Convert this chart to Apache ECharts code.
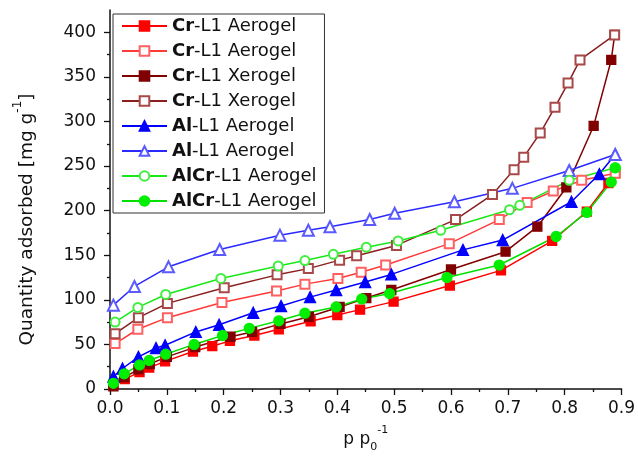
<!DOCTYPE html>
<html><head><meta charset="utf-8">
<script src="https://cdn.jsdelivr.net/npm/echarts@6/dist/echarts.min.js"></script>
<style>html,body{margin:0;padding:0;background:#fff}#c{width:638px;height:466px}</style>
</head><body><div id="c"></div>
<script>
// Legend labels: [bold prefix, rest]
const legendLabels = [
  ['Cr', '-L1 Aerogel'], ['Cr', '-L1 Aerogel'],
  ['Cr', '-L1 Xerogel'], ['Cr', '-L1 Xerogel'],
  ['Al', '-L1 Aerogel'], ['Al', '-L1 Aerogel'],
  ['AlCr', '-L1 Aerogel'], ['AlCr', '-L1 Aerogel']
];
const xTicks = [0, 0.1, 0.2, 0.3, 0.4, 0.5, 0.6, 0.7, 0.8, 0.9];
const yTicks = [0, 50, 100, 150, 200, 250, 300, 350, 400];
const yMinorTicks = [25, 75, 125, 175, 225, 275, 325, 375];

// Cr-L1 Aerogel (adsorption, filled squares)
const crAeroAdsX = [0.006, 0.026, 0.052, 0.069, 0.097, 0.146, 0.18, 0.211, 0.254, 0.297, 0.353, 0.40, 0.44, 0.499, 0.598, 0.688, 0.778, 0.839, 0.877, 0.889];
const crAeroAdsY = [4.5, 11, 19, 24, 31, 42, 48, 54, 60, 67, 76, 83, 89, 98, 116, 133, 166, 199, 231, 242];
// Cr-L1 Aerogel (desorption, open squares)
const crAeroDesX = [0.009, 0.049, 0.101, 0.197, 0.293, 0.343, 0.401, 0.442, 0.485, 0.597, 0.685, 0.734, 0.78, 0.83, 0.889];
const crAeroDesY = [51, 67, 80, 97, 110, 117.6, 124, 131, 139, 163, 190, 209, 222, 234, 242];
// Cr-L1 Xerogel (adsorption, filled squares)
const crXeroAdsX = [0.006, 0.025, 0.05, 0.07, 0.1, 0.15, 0.212, 0.25, 0.3, 0.35, 0.404, 0.451, 0.495, 0.6, 0.696, 0.752, 0.803, 0.851, 0.882, 0.888];
const crXeroAdsY = [3, 13, 22, 28, 36, 47, 58.6, 64, 73, 81, 92, 102, 111, 134, 154, 182, 226, 295, 369, 397];
// Cr-L1 Xerogel (desorption, open squares)
const crXeroDesX = [0.009, 0.05, 0.101, 0.201, 0.294, 0.349, 0.404, 0.434, 0.504, 0.608, 0.673, 0.711, 0.728, 0.757, 0.783, 0.806, 0.827, 0.888];
const crXeroDesY = [62, 80, 96, 113.5, 128, 135, 144.5, 149.4, 161, 190, 218, 246, 260, 287, 316, 343, 369, 397];
// Al-L1 Aerogel (adsorption, filled triangles)
const alAdsX = [0.006, 0.022, 0.05, 0.081, 0.097, 0.151, 0.192, 0.252, 0.301, 0.352, 0.398, 0.449, 0.495, 0.621, 0.691, 0.812, 0.861, 0.889];
const alAdsY = [14, 23, 36, 46, 49, 64, 72, 85.5, 93, 103, 111, 120, 128.5, 156, 167, 210, 241, 263];
// Al-L1 Aerogel (desorption, open triangles)
const alDesX = [0.006, 0.043, 0.103, 0.193, 0.299, 0.349, 0.387, 0.457, 0.501, 0.606, 0.708, 0.808, 0.889];
const alDesY = [94, 115, 137, 156.5, 172.5, 178, 182, 190, 197, 210, 225, 245, 263];
// AlCr-L1 Aerogel (desorption, open circles)
const alcrDesX = [0.009, 0.049, 0.098, 0.195, 0.296, 0.343, 0.393, 0.451, 0.507, 0.582, 0.703, 0.721, 0.808, 0.889];
const alcrDesY = [75, 91.5, 106, 124, 138, 144, 151, 159, 166, 178, 201, 206, 234, 248];
// AlCr-L1 Aerogel (adsorption, filled circles)
const alcrAdsX = [0.006, 0.025, 0.052, 0.069, 0.098, 0.148, 0.198, 0.245, 0.297, 0.343, 0.398, 0.443, 0.492, 0.593, 0.685, 0.785, 0.839, 0.882, 0.889];
const alcrAdsY = [6.4, 17, 27, 32, 39, 50, 60, 68, 76.5, 85, 92, 101, 107, 125, 139, 171, 198, 232, 248];

const FONT = 'DejaVu Sans';
const pair = (xs, ys) => xs.map((x, i) => [x, ys[i]]);

const seriesDefs = [
  {x: crAeroAdsX, y: crAeroAdsY, sym: 'rect', size: 9, color: '#ff0000', line: '#ff0000'},
  {x: crAeroDesX, y: crAeroDesY, sym: 'emptyRect', size: 9, color: '#ff6060', line: '#ff3a3a'},
  {x: crXeroAdsX, y: crXeroAdsY, sym: 'rect', size: 9, color: '#800000', line: '#800000'},
  {x: crXeroDesX, y: crXeroDesY, sym: 'emptyRect', size: 9, color: '#a84848', line: '#8a1f1f'},
  {x: alAdsX, y: alAdsY, sym: 'triangle', size: 11, color: '#0000ff', line: '#0000ff'},
  {x: alDesX, y: alDesY, sym: 'emptyTriangle', size: 11, color: '#5a5aff', line: '#2a2aff'},
  {x: alcrDesX, y: alcrDesY, sym: 'emptyCircle', size: 9, color: '#40ee40', line: '#18e818'},
  {x: alcrAdsX, y: alcrAdsY, sym: 'circle', size: 10, color: '#00ee00', line: '#00e000'}
];

const series = seriesDefs.map((d, i) => ({
  name: 's' + i,
  type: 'line',
  data: pair(d.x, d.y),
  symbol: d.sym,
  symbolSize: d.size,
  showAllSymbol: true,
  itemStyle: {color: d.color, borderColor: d.color, borderWidth: 1.3},
  lineStyle: {color: d.line, width: 1.5},
  emphasis: {disabled: true},
  animation: false
}));

const tickStyle = {color: '#111', width: 1.3};

const chart = echarts.init(document.getElementById('c'));
chart.setOption({
  backgroundColor: '#fff',
  animation: false,
  grid: {left: 110, right: 16, top: 10, bottom: 77, containLabel: false},
  legend: {
    orient: 'vertical', left: 113, top: 14,
    padding: [3, 8, 3, 8], itemGap: 7, itemWidth: 45, itemHeight: 12,
    borderColor: '#333', borderWidth: 1, backgroundColor: '#fff',
    data: series.map(s => s.name),
    formatter: n => { const l = legendLabels[+n.slice(1)]; return '{b|' + l[0] + '}{n|' + l[1] + '}'; },
    textStyle: {
      color: '#111',
      rich: {
        b: {fontFamily: FONT, fontWeight: 'bold', fontSize: 18, lineHeight: 18, color: '#111'},
        n: {fontFamily: FONT, fontSize: 18, lineHeight: 18, color: '#111'}
      }
    }
  },
  xAxis: {
    type: 'value', min: 0, max: 0.9, interval: 0.1,
    name: '{n|p p}{sub|0}{sup|-1}', nameLocation: 'middle', nameGap: 40,
    nameTextStyle: {rich: {
      n: {fontFamily: FONT, fontSize: 17, lineHeight: 22, color: '#111', verticalAlign: 'middle'},
      sub: {fontFamily: FONT, fontSize: 11, lineHeight: 11, color: '#111', verticalAlign: 'bottom', padding: [0, 0, -2, 0]},
      sup: {fontFamily: FONT, fontSize: 11, lineHeight: 11, color: '#111', verticalAlign: 'top', padding: [-4, 0, 0, 0]}
    }},
    axisLine: {onZero: false, lineStyle: {color: '#111', width: 1.5}},
    axisTick: {show: true, length: 6, inside: false, lineStyle: tickStyle},
    minorTick: {show: true, splitNumber: 2, length: 3, lineStyle: tickStyle},
    splitLine: {show: false},
    axisLabel: {fontFamily: FONT, fontSize: 17, color: '#111', margin: 11,
      formatter: v => xTicks.some(t => Math.abs(t - v) < 1e-9) ? v.toFixed(1) : ''}
  },
  yAxis: [{
    type: 'value', min: 0, max: 425, interval: 50,
    name: '{n|Quantity adsorbed [mg g}{s|-1}{n|]}', nameLocation: 'middle', nameGap: 72, nameRotate: 90,
    nameTextStyle: {padding: [0, 40, 0, 0], rich: {
      n: {fontFamily: FONT, fontSize: 18.5, lineHeight: 22, color: '#111'},
      s: {fontFamily: FONT, fontSize: 12, lineHeight: 12, color: '#111', verticalAlign: 'top', padding: [-4, 0, 0, 0]}
    }},
    axisLine: {show: true, onZero: false, lineStyle: {color: '#111', width: 1.5}},
    axisTick: {show: true, length: 6, inside: false, customValues: yTicks, lineStyle: tickStyle},
    minorTick: {show: false},
    splitLine: {show: false},
    axisLabel: {fontFamily: FONT, fontSize: 17, color: '#111', margin: 14, customValues: yTicks,
      formatter: v => String(v)}
  }, {
    type: 'value', min: 0, max: 425, position: 'left', offset: 0,
    axisLine: {show: false},
    axisTick: {show: true, length: 3, inside: false, customValues: yMinorTicks, lineStyle: tickStyle},
    axisLabel: {show: false},
    splitLine: {show: false}
  }],
  series: series
});
</script></body></html>
